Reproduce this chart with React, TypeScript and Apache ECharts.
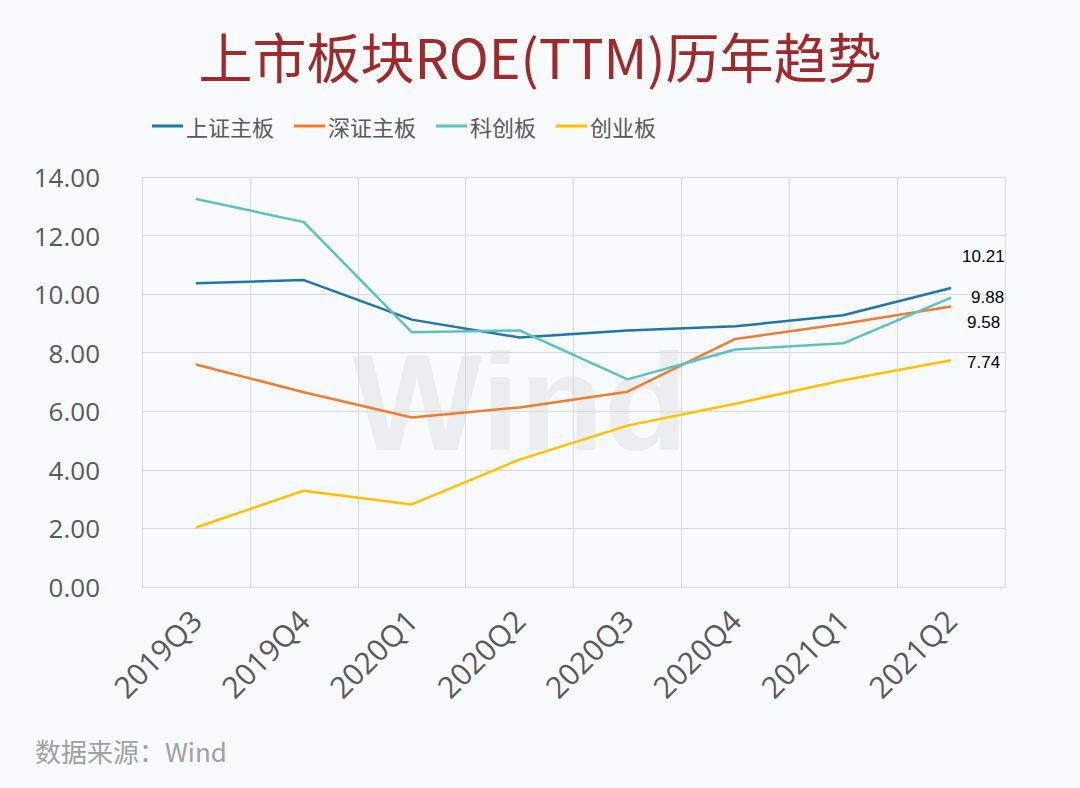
import React, { useEffect, useRef } from "react";
import * as echarts from "echarts";

const categories = ["2019Q3", "2019Q4", "2020Q1", "2020Q2", "2020Q3", "2020Q4", "2021Q1", "2021Q2"];
const shMain = [10.37, 10.48, 9.13, 8.52, 8.76, 8.9, 9.28, 10.21];
const szMain = [7.6, 6.65, 5.79, 6.13, 6.67, 8.47, 8.99, 9.58];
const star = [13.25, 12.46, 8.7, 8.76, 7.09, 8.11, 8.32, 9.88];
const chinext = [2.03, 3.29, 2.82, 4.35, 5.51, 6.26, 7.06, 7.74];
const seriesNames = ["上证主板", "深证主板", "科创板", "创业板"];
const yTicks = [0, 2, 4, 6, 8, 10, 12, 14];

const colors = ["#1f77a8", "#ed7d31", "#5bc3bf", "#ffc000"];
const lastOffsets: [number, number][] = [[6, -31], [11, 16], [15, 0], [11, 2]];

export default function App() {
  const ref = useRef<HTMLDivElement>(null);
  useEffect(() => {
    if (!ref.current) return;
    const chart = echarts.init(ref.current, undefined, { renderer: "svg" });
    const all = [shMain, szMain, star, chinext];
    const order = [0, 1, 2, 3];
    chart.setOption({
      animation: false,
      backgroundColor: "#f9fafc",
      title: {
        text: "上市板块ROE(TTM)历年趋势",
        left: "center",
        top: 23,
        textStyle: { fontSize: 54, fontWeight: "normal", color: "#9e2a2b", fontFamily: "Noto Sans CJK SC" },
      },
      legend: {
        top: 110,
        left: 147,
        itemGap: 20,
        itemWidth: 31,
        itemHeight: 3,
        icon: "rect",
        textStyle: { fontSize: 22, color: "#595959", fontFamily: "Noto Sans CJK SC", padding: [0, 0, 0, -2] },
        data: seriesNames,
      },
      grid: { left: 142, right: 75, top: 177, bottom: 201 },
      xAxis: {
        type: "category",
        data: categories,
        boundaryGap: true,
        axisLine: { show: true, lineStyle: { color: "#d9d9d9" } },
        axisTick: { show: false },
        splitLine: { show: true, lineStyle: { color: "#d9d9d9" } },
        axisLabel: { rotate: 45, margin: 28, fontSize: 30, color: "#595959", fontFamily: "Open Sans", interval: 0 },
      },
      yAxis: {
        type: "value",
        min: yTicks[0],
        max: yTicks[yTicks.length - 1],
        interval: 2,
        axisLine: { show: false },
        axisTick: { show: false },
        splitLine: { show: true, lineStyle: { color: "#d9d9d9" } },
        axisLabel: { margin: 42, fontSize: 26, color: "#595959", fontFamily: "Open Sans", formatter: (v: number) => v.toFixed(2) },
      },
      graphic: [
        {
          type: "text",
          left: 352,
          top: 333,
          silent: true,
          z: -1,
          style: { text: "Wind", fontSize: 138, fontWeight: "bold", fill: "rgba(0,0,0,0.05)", fontFamily: "Liberation Sans" },
        },
        {
          type: "text",
          left: 35,
          top: 737,
          style: { text: "数据来源：Wind", fontSize: 26, fill: "#a0a0a0", fontFamily: "Noto Sans CJK SC" },
        },
      ],
      series: order.map((i) => ({
        name: seriesNames[i],
        type: "line",
        symbol: "circle",
        symbolSize: 0,
        showSymbol: true,
        lineStyle: { width: 2.5, color: colors[i] },
        itemStyle: { color: colors[i] },
        z: 3,
        data: all[i].map((v, j) =>
          j === all[i].length - 1
            ? {
                value: v,
                label: {
                  show: true,
                  position: "right",
                  offset: lastOffsets[i],
                  formatter: (p: any) => Number(p.value).toFixed(2),
                  fontSize: 17,
                  color: "#000",
                  fontFamily: "Liberation Sans",
                },
              }
            : v
        ),
      })),
    });
    return () => chart.dispose();
  }, []);
  return <div ref={ref} style={{ position: "absolute", left: 0, top: 0, width: 1080, height: 788 }} />;
}
